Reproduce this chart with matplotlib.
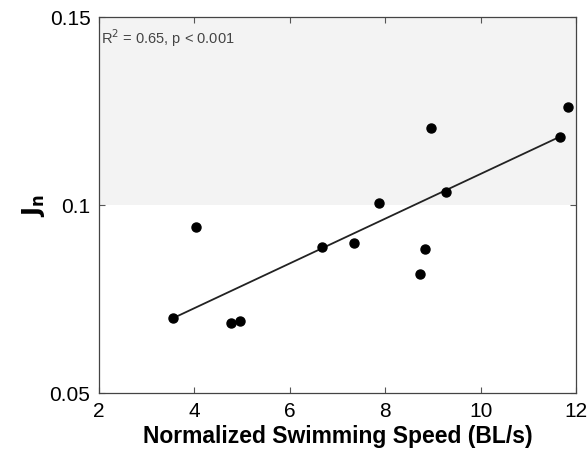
import matplotlib
matplotlib.use("Agg")
import matplotlib.pyplot as plt
import numpy as np

plt.rcParams['font.family'] = ['Liberation Sans', 'DejaVu Sans']

speed = [3.56, 4.03, 4.76, 4.96, 6.68, 7.35, 7.86, 8.73, 8.83, 8.96, 9.27, 11.65, 11.82]
jn = [0.0698, 0.0941, 0.0685, 0.0691, 0.0888, 0.0898, 0.1005, 0.0815, 0.0881, 0.1205, 0.1035, 0.1180, 0.1260]
fit_slope = 0.00596
fit_intercept = 0.0486
xticks = [2, 4, 6, 8, 10, 12]
yticks = [0.05, 0.1, 0.15]
ytick_labels = ['0.05', '0.1', '0.15']

fig = plt.figure(figsize=(5.88, 4.56), dpi=100)
ax = fig.add_axes([0.168, 0.137, 0.812, 0.824])
ax.axhspan(0.1, 0.15, color='#f3f3f3', zorder=0, lw=0)

xf = np.array([min(speed), max(speed[:-1])])
ax.plot(xf, fit_slope * xf + fit_intercept, color='#222222', lw=1.3, zorder=2)
ax.plot(speed, jn, 'o', color='black', ms=6.5, zorder=3)

ax.set_xlim(2, 12)
ax.set_ylim(0.05, 0.15)
ax.set_xticks(xticks)
ax.set_yticks(yticks)
ax.set_yticklabels(ytick_labels)
ax.tick_params(direction='in', top=True, right=True, labelsize=15, length=4, color='#555555', pad=6)
for s in ax.spines.values():
    s.set_color('#444444')
    s.set_linewidth(0.9)

ax.set_xlabel('Normalized Swimming Speed (BL/s)', fontsize=16.5, fontweight='bold', labelpad=3)
ax.set_ylabel(r'$\mathbf{J_n}$', fontsize=17, labelpad=2)
ax.text(0.005, 0.945, r'R$^2$ = 0.65, p < 0.001', transform=ax.transAxes, fontsize=10.5,
        color='#444444', va='center', ha='left')

fig.savefig('out.png', dpi=100)
